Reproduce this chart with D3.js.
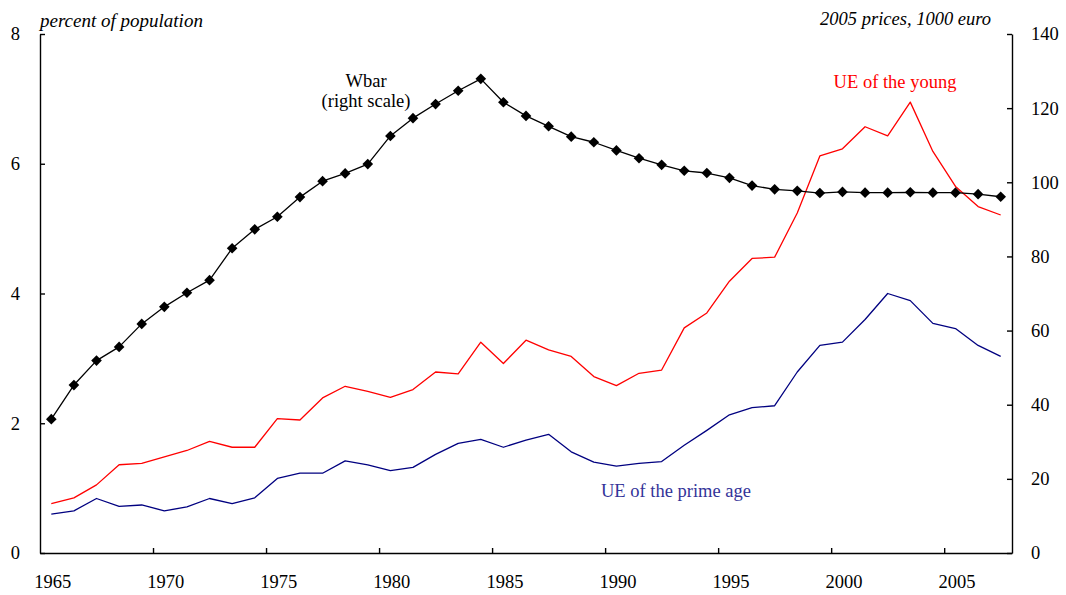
<!DOCTYPE html>
<html>
<head>
<meta charset="utf-8">
<script src="https://cdn.jsdelivr.net/npm/d3@7"></script>
<style>
    body { margin: 0; background: #fff; }
    svg text { font-family: "Liberation Serif", "Times New Roman", serif; fill: #000; }
</style>
</head>
<body>
<svg id="chart" width="1066" height="595"></svg>
<script>
var years = d3.range(1965, 2008);
var yearLabels = [1965, 1970, 1975, 1980, 1985, 1990, 1995, 2000, 2005];

// UE of the young, percent of population (left scale)
var ueYoung = [0.76, 0.85, 1.05, 1.36, 1.38, 1.48, 1.58, 1.72, 1.63, 1.63,
    2.07, 2.05, 2.39, 2.57, 2.49, 2.40, 2.52, 2.79, 2.76, 3.25,
    2.92, 3.28, 3.13, 3.03, 2.72, 2.58, 2.77, 2.82, 3.47, 3.70,
    4.19, 4.54, 4.56, 5.24, 6.12, 6.23, 6.57, 6.43, 6.95, 6.19,
    5.65, 5.34, 5.21];

// UE of the prime age, percent of population (left scale)
var uePrime = [0.60, 0.65, 0.84, 0.72, 0.74, 0.65, 0.71, 0.84, 0.76, 0.85,
    1.15, 1.23, 1.23, 1.42, 1.36, 1.27, 1.32, 1.52, 1.69, 1.75,
    1.63, 1.74, 1.83, 1.56, 1.40, 1.34, 1.38, 1.41, 1.66, 1.89,
    2.13, 2.24, 2.27, 2.79, 3.20, 3.25, 3.60, 4.00, 3.89, 3.54,
    3.46, 3.20, 3.03];

// Wbar, 2005 prices, 1000 euro (right scale)
var wbar = [36.1, 45.3, 51.9, 55.6, 61.8, 66.4, 70.2, 73.6, 82.2, 87.3,
    90.7, 96.0, 100.3, 102.4, 104.9, 112.5, 117.3, 121.1, 124.7, 127.9,
    121.6, 117.9, 115.1, 112.3, 110.8, 108.6, 106.5, 104.7, 103.1, 102.5,
    101.2, 99.1, 98.1, 97.7, 97.1, 97.4, 97.2, 97.2, 97.3, 97.2,
    97.2, 96.8, 96.1];

var leftTicks = [0, 2, 4, 6, 8];
var rightTicks = [0, 20, 40, 60, 80, 100, 120, 140];

var svg = d3.select('#chart');
var plotLeft = 40, plotRight = 1012, plotTop = 34, plotBottom = 553;

// category boundaries on a linear scale, points sit at year + 0.5
var x = d3.scaleLinear().domain([1965, 2008]).range([plotLeft, plotRight]);
var yL = d3.scaleLinear().domain([0, 8]).range([plotBottom, plotTop]);
var yR = d3.scaleLinear().domain([0, 140]).range([plotBottom, plotTop]);

function styleAxis(g) {
    g.selectAll('path, line').attr('stroke', '#000').attr('stroke-width', 1.4);
    g.selectAll('text').attr('font-size', 18.5).attr('font-family', '"Liberation Serif", serif');
}

svg.append('g')
    .attr('transform', 'translate(0,' + plotBottom + ')')
    .call(d3.axisBottom(x).tickValues(d3.range(1970, 2008, 5)).tickSizeInner(-5).tickSizeOuter(0).tickFormat(''))
    .call(styleAxis);

svg.append('g')
    .selectAll('text')
    .data(yearLabels)
    .enter().append('text')
    .attr('x', function (d) { return x(d + 0.5) + 1.5; })
    .attr('y', 588)
    .attr('text-anchor', 'middle')
    .attr('font-size', 18.5)
    .text(function (d) { return d; });

svg.append('g')
    .attr('transform', 'translate(' + plotLeft + ',0)')
    .call(d3.axisLeft(yL).tickValues(leftTicks).tickSizeInner(-5).tickSizeOuter(0).tickPadding(20))
    .call(styleAxis);

svg.append('g')
    .attr('transform', 'translate(' + plotRight + ',0)')
    .call(d3.axisRight(yR).tickValues(rightTicks).tickSizeInner(-5).tickSizeOuter(0).tickPadding(19))
    .call(styleAxis);

svg.selectAll('.domain').attr('fill', 'none');

function drawLine(values, scale, color, width) {
    var line = d3.line()
        .x(function (d, i) { return x(years[i] + 0.5); })
        .y(function (d) { return scale(d); });
    svg.append('path')
        .datum(values)
        .attr('d', line)
        .attr('fill', 'none')
        .attr('stroke', color)
        .attr('stroke-width', width)
        .attr('stroke-linejoin', 'round');
}

drawLine(ueYoung, yL, '#ff0000', 1.3);
drawLine(uePrime, yL, '#000080', 1.3);
drawLine(wbar, yR, '#000', 1.3);

svg.append('g')
    .selectAll('path')
    .data(wbar)
    .enter().append('path')
    .attr('d', d3.symbol().type(d3.symbolDiamond2).size(72))
    .attr('transform', function (d, i) {
        return 'translate(' + x(years[i] + 0.5) + ',' + yR(d) + ')';
    })
    .attr('fill', '#000');

// axis titles
svg.append('text').attr('x', 40).attr('y', 27).attr('font-size', 19)
    .attr('font-style', 'italic').text('percent of population');
svg.append('text').attr('x', 991).attr('y', 25).attr('font-size', 18.5)
    .attr('font-style', 'italic').attr('text-anchor', 'end').text('2005 prices, 1000 euro');

// series labels
svg.append('text').attr('x', 366).attr('y', 87).attr('font-size', 18.5)
    .attr('text-anchor', 'middle').text('Wbar');
svg.append('text').attr('x', 366).attr('y', 107).attr('font-size', 18.5)
    .attr('text-anchor', 'middle').text('(right scale)');
svg.append('text').attr('x', 895).attr('y', 88).attr('font-size', 18.5)
    .attr('text-anchor', 'middle').style('fill', '#ff0000').text('UE of the young');
svg.append('text').attr('x', 676).attr('y', 497).attr('font-size', 18.5)
    .attr('text-anchor', 'middle').style('fill', '#333399').text('UE of the prime age');
</script>
</body>
</html>
